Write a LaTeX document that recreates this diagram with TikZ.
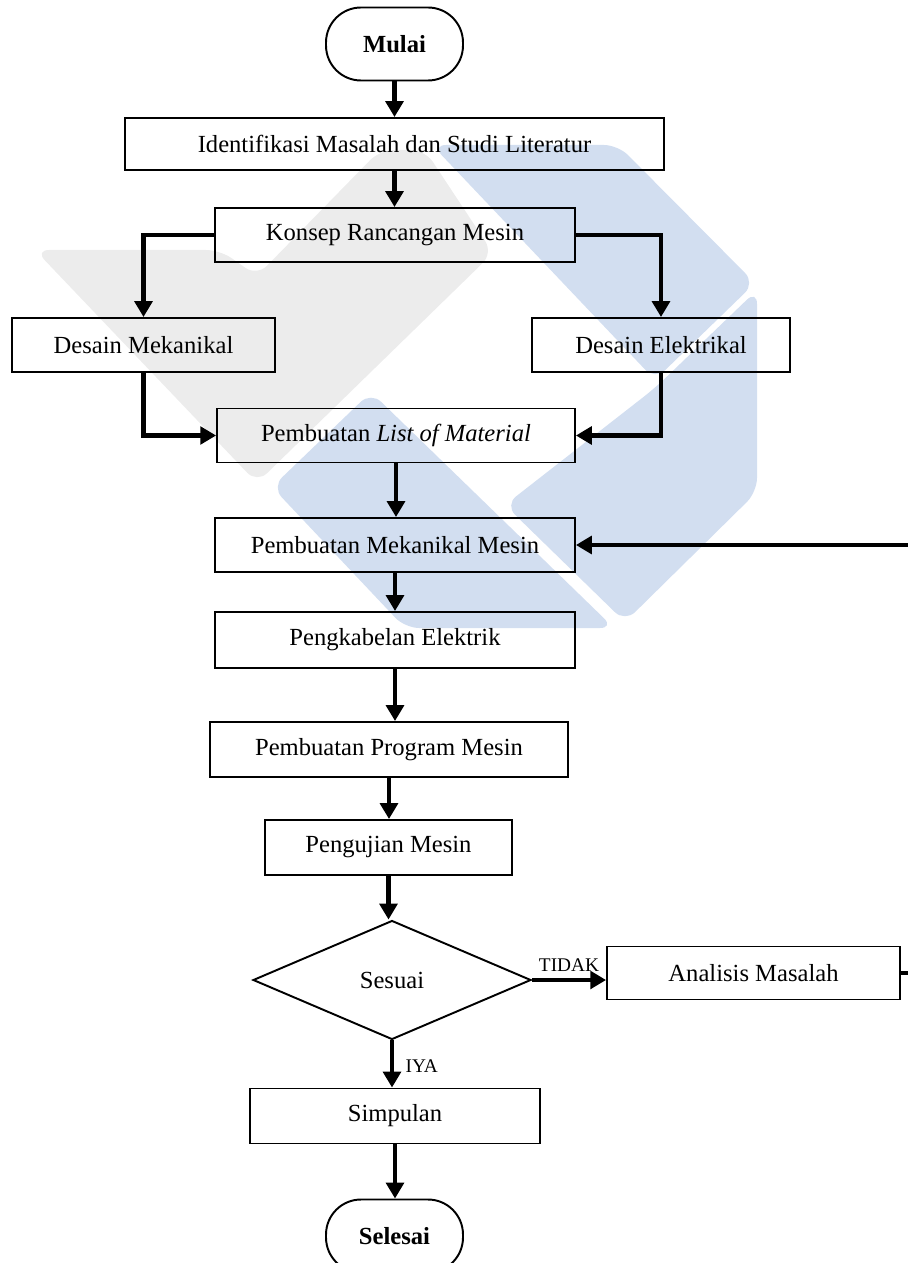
\documentclass[tikz,border=0pt]{standalone}
\usepackage{fontspec}
\setmainfont{Liberation Serif}
\usetikzlibrary{arrows.meta,shapes.geometric}
\definecolor{wmgrey}{RGB}{236,236,236}
\definecolor{wmblue}{RGB}{210,222,240}

\begin{document}
\begin{tikzpicture}[x=0.02cm,y=-0.02cm,
  box/.style={draw,line width=1.1pt,minimum height=1.08cm,font=\fontsize{14}{16}\selectfont},
  term/.style={draw,line width=1.1pt,rounded corners=0.7cm,minimum width=2.74cm,minimum height=1.46cm,font=\fontsize{14}{16}\selectfont\bfseries},
  decision/.style={draw,diamond,line width=1.1pt,minimum width=5.56cm,minimum height=2.38cm,inner sep=0pt,font=\fontsize{14}{16}\selectfont},
  flow/.style={line width=2.8pt,-{Triangle[length=9pt,width=10pt]}},
  lbl/.style={font=\fontsize{11}{13}\selectfont}]
\useasboundingbox (0,0) rectangle (908,1263);
\fill[wmgrey,rounded corners=8pt] (35,250) -- (220,250) -- (257,276) -- (380,150) -- (425,150) -- (493,253) -- (257,483) -- cycle;
\fill[wmblue,rounded corners=8pt] (432,145) -- (618,145) -- (755,283) -- (655,380) -- cycle;
\fill[wmblue,rounded corners=8pt] (505,505) -- (655,388) -- (757,290) -- (757,492) -- (625,622) -- cycle;
\fill[wmblue,rounded corners=8pt] (371,392) -- (614,628) -- (405,628) -- (272,487) -- cycle;

\node[term] (mulai) at (394.5,44) {Mulai};
\node[box,minimum width=10.78cm,minimum height=1.04cm] (ident) at (394.5,144) {Identifikasi Masalah dan Studi Literatur};
\node[box,minimum width=7.2cm] (konsep) at (395,235) {Konsep Rancangan Mesin};
\node[box,minimum width=5.26cm] (dmek) at (143.5,345) {Desain Mekanikal};
\node[box,minimum width=5.16cm] (delek) at (661,345) {Desain Elektrikal};
\node[box,minimum width=7.16cm] (list) at (396,435.5) {Pembuatan \textit{List of Material}};
\node[box,minimum width=7.2cm] (pmek) at (395,545) {Pembuatan Mekanikal Mesin};
\node[box,minimum width=7.2cm,minimum height=1.12cm] (kabel) at (395,640) {Pengkabelan Elektrik};
\node[box,minimum width=7.16cm,minimum height=1.1cm] (prog) at (389,749.5) {Pembuatan Program Mesin};
\node[box,minimum width=4.94cm,minimum height=1.1cm] (uji) at (388.5,847.5) {Pengujian Mesin};
\node[decision] (sesuai) at (392,980) {Sesuai};
\node[box,minimum width=5.86cm,minimum height=1.06cm] (analisis) at (753.5,973) {Analisis Masalah};
\node[box,minimum width=5.8cm,minimum height=1.1cm] (simpulan) at (395,1116) {Simpulan};
\node[term] (selesai) at (394.5,1236) {Selesai};
\coordinate (balik) at (950,973);

\draw[flow] (mulai.south) -- (ident.north);
\draw[flow] (ident.south) -- (ident.south |- konsep.north);
\draw[flow] (konsep.west) -| (dmek.north);
\draw[flow] (konsep.east) -| (delek.north);
\draw[flow] (dmek.south) |- (list.west);
\draw[flow] (delek.south) |- (list.east);
\draw[flow] (list.south) -- (list.south |- pmek.north);
\draw[flow] (pmek.south) -- (pmek.south |- kabel.north);
\draw[flow] (kabel.south) -- (kabel.south |- prog.north);
\draw[flow] (prog.south) -- (prog.south |- uji.north);
\draw[flow] (uji.south) -- (uji.south |- sesuai.north);
\draw[flow] (sesuai.east) -- node[lbl,above] {TIDAK} (sesuai.east -| analisis.west);
\draw[flow] (sesuai.south) -- node[lbl,right,pos=0.55,xshift=3pt] {IYA} (sesuai.south |- simpulan.north);
\draw[flow] (simpulan.south) -- (simpulan.south |- selesai.north);
\draw[flow] (analisis.east) -- (balik) |- (pmek.east);
\end{tikzpicture}
\end{document}
